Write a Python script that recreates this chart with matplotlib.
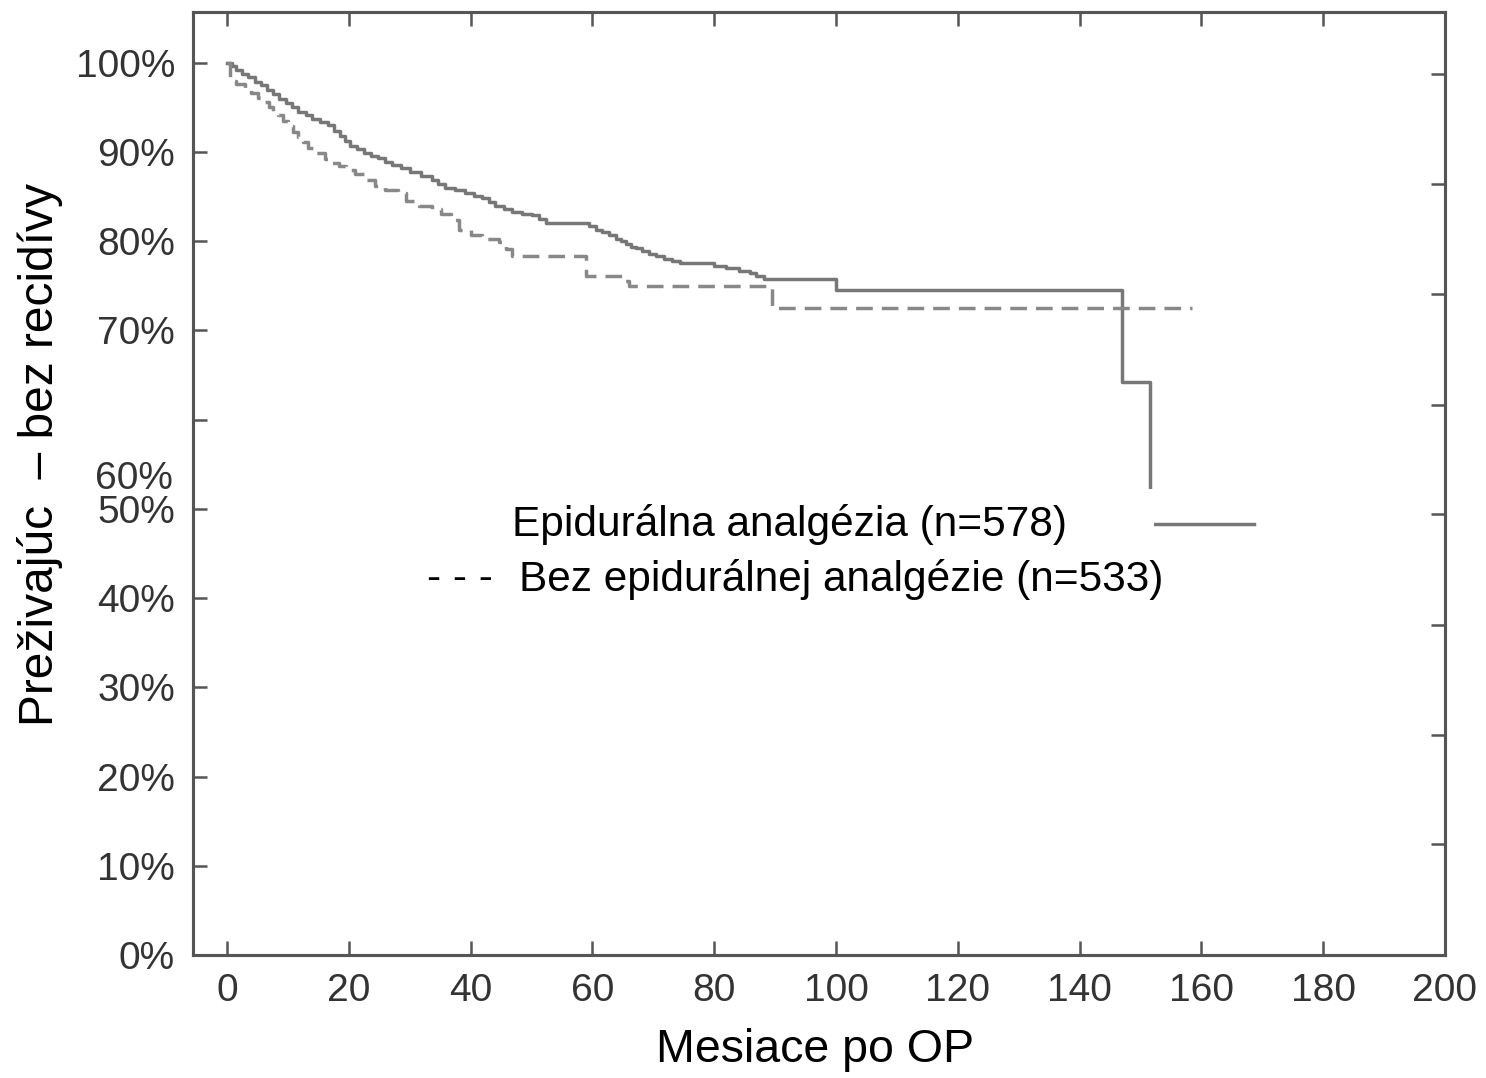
import matplotlib
matplotlib.use("Agg")
import matplotlib.pyplot as plt
from matplotlib.patches import Rectangle
from matplotlib.transforms import blended_transform_factory

plt.rcParams['font.family'] = ['Liberation Sans', 'DejaVu Sans']

# Kaplan-Meier curves (months, % without recurrence)
epi_t = [0, 0.8, 1.5, 2.5, 3.5, 4.5, 5.5, 6.5, 7.5, 8.5, 9.7, 10.7, 11.7, 13,
         14, 15.3, 16.6, 17.5, 18.5, 19.3, 20.2, 21.3, 22.5, 23.6, 24.8, 26,
         27, 28.5, 30, 31.8, 33.6, 34.7, 35.8, 37.5, 39, 40.5, 41.8, 43, 44,
         45.4, 46.7, 48.5, 50, 51.2, 52.3, 59.4, 60.5, 61.5, 62.7, 63.8, 64.7,
         65.5, 66.3, 67.1, 68.2, 69.2, 70.5, 71.7, 73, 74.3, 80, 81.9, 84,
         85.9, 86.8, 88.2, 100, 147, 151.5, 168.7]
epi_s = [100, 99.6, 99.2, 98.8, 98.4, 97.9, 97.5, 97.0, 96.5, 96.0, 95.5, 95.0,
         94.5, 94.1, 93.7, 93.4, 93.0, 92.4, 91.8, 91.2, 90.7, 90.3, 89.9, 89.6,
         89.3, 88.9, 88.5, 88.2, 87.8, 87.3, 86.9, 86.4, 86.0, 85.7, 85.4, 85.1,
         84.8, 84.4, 84.0, 83.6, 83.3, 83.1, 82.9, 82.5, 82.1, 81.7, 81.3, 81.0,
         80.7, 80.3, 80.0, 79.7, 79.4, 79.2, 78.9, 78.6, 78.3, 78.0, 77.8, 77.6,
         77.2, 77.0, 76.7, 76.4, 76.1, 75.8, 74.5, 64.2, 48.3, 48.3]

noepi_t = [0, 0.4, 1.5, 3, 4, 5.1, 6, 6.8, 7.6, 8.4, 9.2, 10, 10.8, 11.7, 12.5,
           13.3, 14.1, 16, 17, 18.3, 19.5, 21, 22.5, 24.3, 26, 28.1, 29.3, 31.5,
           33.6, 35.2, 36.8, 38, 40, 41.8, 44.6, 45.8, 46.7, 59, 64.8, 66, 89.5,
           158.5]
noepi_s = [100, 98.0, 97.6, 97.1, 96.6, 96.1, 95.6, 95.1, 94.6, 94.1, 93.5, 92.9,
           92.3, 91.7, 91.1, 90.5, 89.9, 89.2, 88.8, 88.4, 88.0, 87.5, 86.9, 86.2,
           85.8, 85.4, 84.5, 84.0, 83.6, 83.0, 82.4, 81.3, 80.7, 80.2, 79.9, 79.1,
           78.3, 76.1, 75.6, 75.0, 72.5, 72.5]

x_ticks = list(range(0, 201, 20))
y_ticks = list(range(0, 101, 10))
y_labels = [f"{v}%" if v != 60 else "" for v in y_ticks]
right_ticks = [12.4, 24.7, 37.0, 49.4, 61.7, 74.1, 86.4, 98.8]

label_epi = "Epidurálna analgézia (n=578)"
label_noepi = "Bez epidurálnej analgézie (n=533)"

spine_col = "#555555"
tick_col = "#333333"

fig = plt.figure(figsize=(14.86, 10.78), dpi=100)
ax = fig.add_axes([0.1299, 0.1141, 0.9724 - 0.1299, 0.9889 - 0.1141])

ax.step(epi_t, epi_s, where="post", color="#777777", lw=2.5, zorder=3)
ax.step(noepi_t, noepi_s, where="post", color="#888888", lw=2.5,
        linestyle=(0, (4.8, 2.6)), zorder=3)

ax.set_xlim(-5.6, 200)
ax.set_ylim(0, 105.7)

ax.set_xticks(x_ticks)
ax.set_xticklabels([str(v) for v in x_ticks])
ax.set_yticks(y_ticks)
ax.set_yticklabels(y_labels)
ax.tick_params(axis="both", direction="in", length=10, width=1.8, color=spine_col,
               labelsize=28, labelcolor=tick_col, pad=13)
ax.tick_params(axis="x", top=True)

# misplaced 60% label, as in the original
tr = blended_transform_factory(ax.transAxes, ax.transData)
ax.text(-0.016, 53.3, "60%", transform=tr, ha="right", va="center",
        fontsize=28, color=tick_col)

# right axis has its own tick spacing
ax2 = ax.twinx()
ax2.set_ylim(ax.get_ylim())
ax2.set_yticks(right_ticks)
ax2.set_yticklabels([])
ax2.tick_params(axis="y", direction="in", length=10, width=1.8, color=spine_col)
for a in (ax, ax2):
    for s in a.spines.values():
        s.set_color(spine_col)
        s.set_linewidth(2.2)

# legend block with white background
ax.add_patch(Rectangle((31, 37.5), 152.2 - 31, 52.2 - 37.5, facecolor="white",
                       edgecolor="none", zorder=4))
ax.text(46.7, 48.3, label_epi, fontsize=30.5, color="black", va="center",
        ha="left", zorder=5)
ax.text(32.9, 42.1, "- - -", fontsize=30.5, color="black", va="center",
        ha="left", zorder=5)
ax.text(48.0, 42.1, label_noepi, fontsize=30.5, color="black", va="center",
        ha="left", zorder=5)

fig.text(815 / 1486, 1 - 1050 / 1078, "Mesiace po OP", fontsize=33.5,
         ha="center", va="center")
fig.text(40 / 1486, 1 - 455 / 1078, "Preživajúc  – bez recidívy", fontsize=34.5,
         rotation=90, ha="center", va="center")

fig.savefig("out.png", dpi=100, facecolor="white")
